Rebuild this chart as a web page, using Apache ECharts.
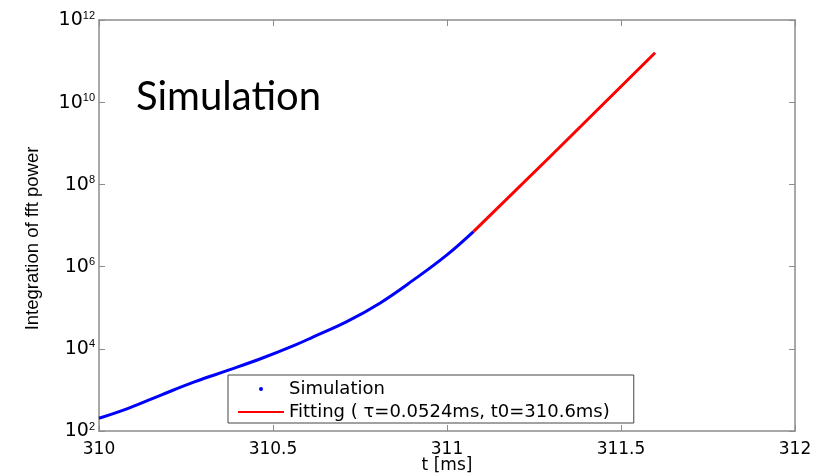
<!DOCTYPE html>
<html>
<head>
<meta charset="utf-8">
<script src="https://cdn.jsdelivr.net/npm/echarts@6/dist/echarts.min.js"></script>
<style>
  html, body { margin: 0; padding: 0; background: #ffffff; }
  #chart { width: 830px; height: 474px; }
</style>
</head>
<body>
<div id="chart"></div>
<script>
// ---- data ----
const simT = [310.0, 310.084, 310.18, 310.276, 310.372, 310.468, 310.563, 310.616, 310.712, 310.807, 310.903, 310.999, 311.076];
const simV = [204, 355, 759, 1585, 3020, 5890, 12300, 19500, 45700, 129000, 468000, 1.9e6, 7.1e6];
const fitT = [311.076, 311.296, 311.598];
const fitV = [7.1e6, 4.7e8, 1.6e11];
const xTicks = [310, 310.5, 311, 311.5, 312];
const yTickExponents = [2, 4, 6, 8, 10, 12];
const seriesNames = ['Simulation', 'Fitting ( \u03c4=0.0524ms, t0=310.6ms)'];
const titleText = 'Simulation';

const pairs = (xs, ys) => xs.map((x, i) => [x, ys[i]]);

const axisGray = '#8c8c8c';
const tickFont = 'DejaVu Sans';

const chart = echarts.init(document.getElementById('chart'), null, { renderer: 'canvas' });

const xCommon = {
  type: 'value',
  min: xTicks[0],
  max: xTicks[xTicks.length - 1],
  interval: 0.5,
  splitLine: { show: false },
  axisLine: { show: true, onZero: false, lineStyle: { color: axisGray, width: 1.5 } },
  axisTick: { show: true, inside: true, length: 6, lineStyle: { color: axisGray, width: 1 } }
};
const yCommon = {
  type: 'log',
  logBase: 10,
  min: Math.pow(10, yTickExponents[0]),
  max: Math.pow(10, yTickExponents[yTickExponents.length - 1]),
  interval: 2,
  splitLine: { show: false },
  minorTick: { show: false },
  axisLine: { show: true, onZero: false, lineStyle: { color: axisGray, width: 1.5 } },
  axisTick: { show: true, inside: true, length: 6, lineStyle: { color: axisGray, width: 1 } }
};

const option = {
  backgroundColor: '#ffffff',
  animation: false,
  title: {
    text: titleText,
    left: 136,
    top: 77,
    padding: 0,
    textStyle: { fontFamily: 'Lato', fontWeight: 'normal', fontSize: 40, color: '#000000' }
  },
  grid: { left: 99, right: 35, top: 20, bottom: 43, containLabel: false, outerBoundsMode: 'none' },
  xAxis: [
    Object.assign({}, xCommon, {
      position: 'bottom',
      name: 't [ms]',
      nameLocation: 'middle',
      nameGap: 26,
      nameMoveOverlap: false,
      nameTextStyle: { fontFamily: tickFont, fontSize: 17, color: '#000000' },
      axisLabel: {
        show: true, margin: 10,
        fontFamily: tickFont, fontSize: 17, color: '#000000',
        formatter: v => String(v)
      }
    }),
    Object.assign({}, xCommon, { position: 'top', axisLabel: { show: false } })
  ],
  yAxis: [
    Object.assign({}, yCommon, {
      position: 'left',
      name: 'Integration of fft power',
      nameLocation: 'middle',
      nameGap: 57,
      nameMoveOverlap: false,
      nameTextStyle: { fontFamily: 'Liberation Sans', fontSize: 18.5, color: '#000000', padding: [0, 26, 0, 0] },
      axisLabel: {
        show: true, margin: 4,
        formatter: v => '{b|10}{s|' + Math.round(Math.log10(v)) + '}',
        rich: {
          b: { fontFamily: tickFont, fontSize: 19, color: '#000000', lineHeight: 20, padding: [4, 0, 0, 0], verticalAlign: 'bottom' },
          s: { fontFamily: 'Liberation Sans', fontSize: 11, color: '#000000', lineHeight: 8, verticalAlign: 'top' }
        }
      }
    }),
    Object.assign({}, yCommon, { position: 'right', axisLabel: { show: false } })
  ],
  legend: {
    orient: 'vertical',
    left: 228,
    top: 375,
    padding: [4, 24, 1, 9],
    itemGap: 3,
    itemWidth: 46,
    itemHeight: 4,
    backgroundColor: '#ffffff',
    borderColor: '#444444',
    borderWidth: 1,
    borderRadius: 0,
    textStyle: { fontFamily: tickFont, fontSize: 18, color: '#000000', lineHeight: 20 },
    data: [
      { name: seriesNames[0], icon: 'circle', itemStyle: { color: '#0000ff' }, lineStyle: { width: 0, opacity: 0 } },
      { name: seriesNames[1], itemStyle: { opacity: 0 } }
    ]
  },
  series: [
    {
      name: seriesNames[0],
      type: 'line',
      xAxisIndex: 0, yAxisIndex: 0,
      data: pairs(simT, simV),
      smooth: 0.4,
      symbol: 'none',
      color: '#0000ff',
      lineStyle: { color: '#0000ff', width: 3 },
      z: 2
    },
    {
      name: seriesNames[1],
      type: 'line',
      xAxisIndex: 0, yAxisIndex: 0,
      data: pairs(fitT, fitV),
      symbol: 'none',
      color: '#ff0000',
      lineStyle: { color: '#ff0000', width: 3 },
      z: 3
    }
  ]
};

chart.setOption(option);
</script>
</body>
</html>
